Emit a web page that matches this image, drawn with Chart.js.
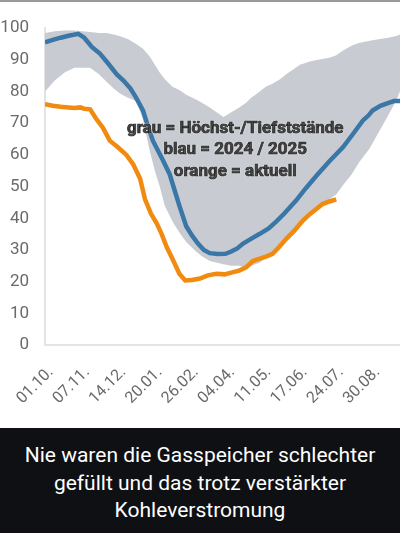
<!DOCTYPE html>
<html>
<head>
<meta charset="utf-8">
<script src="https://cdn.jsdelivr.net/npm/chart.js@4.4.1/dist/chart.umd.min.js"></script>
<style>
  html, body { margin: 0; padding: 0; background: #fff; }
  body { width: 400px; height: 533px; overflow: hidden; }
  #topbar { height: 2px; background: #9a9a9a; }
  #wrap { position: relative; width: 400px; height: 426px; }
  #caption {
    height: 105px; background: #0e1013; color: #fff;
    font-family: Roboto, "Noto Sans", sans-serif; font-size: 21px;
    line-height: 27.5px; text-align: center; padding-top: 14px; box-sizing: border-box;
  }
</style>
</head>
<body>
<div id="topbar"></div>
<div id="wrap"><canvas id="gasChart"></canvas></div>
<div id="caption">Nie waren die Gasspeicher schlechter<br>gefüllt und das trotz verstärkter<br>Kohleverstromung</div>
<script>
// x = Tage seit 01.10.
const tickDays = [0, 37, 74, 111, 148, 185, 222, 259, 296, 333];
const tickLabels = ['01.10.', '07.11.', '14.12.', '20.01.', '26.02.', '04.04.', '11.05.', '17.06.', '24.07.', '30.08.'];

// grau: Höchst-/Tiefststände
const grayDays = [0, 10, 20, 30, 46, 55, 63, 70, 76, 85, 93, 100, 107, 112, 117, 122, 130, 137, 144, 154, 160, 168, 182, 190, 198, 205, 210, 219, 225, 232, 240, 246, 260, 270, 277, 290, 297, 304, 313, 320, 331, 340, 350, 358, 362];
const grayHigh = [98.5, 99, 99.3, 99.3, 98.8, 98.5, 98.5, 98, 97.5, 96.5, 95, 93.5, 91, 88.5, 86, 84, 81.5, 80.5, 79, 77.5, 76.5, 75, 72, 73.5, 75, 76.5, 78, 80, 81.5, 82.5, 84, 85.5, 88.5, 89.5, 90, 90.7, 91.5, 93, 94.5, 95.3, 96, 96.5, 97, 97.5, 98];
const grayLow = [80, 83.5, 86, 87.5, 87.5, 85.5, 83, 81, 79.5, 78, 77, 71, 61, 55, 50, 44, 39, 35.5, 32.5, 29.5, 28, 26.5, 25.5, 25, 25, 24.5, 25, 26, 27.5, 29.5, 32, 34, 39, 41.5, 43.5, 46, 47.5, 50.5, 54, 57.5, 62, 67, 72.5, 77, 80];

// blau: 2024 / 2025
const blueDays = [0, 8, 16, 24, 34, 40, 48, 56, 64, 73, 80, 87, 93, 100, 105, 110, 120, 127, 132, 137, 144, 150, 156, 162, 168, 176, 184, 190, 196, 202, 210, 219, 228, 236, 244, 256, 266, 277, 290, 304, 315, 324, 330, 334, 342, 351, 356, 362];
const blueValues = [95.5, 96.3, 97, 97.6, 98.2, 97, 94, 92, 89, 85.5, 83.5, 81, 78, 74, 69, 64.5, 58.5, 54, 49, 44, 37.5, 34.5, 32, 30, 29, 28.7, 28.8, 29.5, 30.5, 32, 33.5, 35.1, 36.8, 39, 41.5, 45.6, 49.5, 53.5, 58, 62.5, 67, 70.8, 72.5, 74, 75.5, 76.5, 77, 77];

// orange: aktuell
const orangeDays = [0, 8, 16, 24, 30, 36, 40, 46, 52, 59, 66, 74, 83, 90, 97, 102, 108, 114, 119, 124, 131, 137, 143, 150, 158, 166, 175, 183, 192, 198, 205, 212, 219, 226, 232, 239, 246, 254, 263, 270, 277, 283, 290, 297];
const orangeValues = [76, 75.5, 75.2, 75, 74.8, 75, 74.6, 74.4, 71.5, 68.6, 64.5, 62.5, 60, 57, 52.5, 46, 41.5, 38.3, 35, 31, 26.5, 22.5, 20.4, 20.5, 21, 22, 22.5, 22.3, 23, 23.5, 24.5, 26.5, 27.3, 28, 28.8, 31, 33.5, 36, 39.3, 41.3, 43, 44.5, 45.3, 46];

const legendLines = ['grau = Höchst-/Tiefststände', 'blau = 2024 / 2025', 'orange = aktuell'];

function pts(days, vals) {
    return days.map((d, i) => ({ x: d, y: vals[i] }));
}

// Beschriftung im Diagramm
const notePlugin = {
    id: 'note',
    afterDatasetsDraw(chart) {
        const ctx = chart.ctx;
        const x = chart.scales.x.getPixelForValue(194);
        const y0 = chart.scales.y.getPixelForValue(68.4);
        const y1 = chart.scales.y.getPixelForValue(61.5);
        const step = y1 - y0;
        ctx.save();
        ctx.font = 'bold 17px Roboto, sans-serif';
        ctx.textAlign = 'center';
        ctx.textBaseline = 'middle';
        ctx.fillStyle = '#1e1e1e';
        ctx.strokeStyle = '#1e1e1e';
        ctx.lineWidth = 0.7;
        ctx.shadowColor = 'rgba(255,255,255,0.6)';
        ctx.shadowBlur = 2;
        legendLines.forEach((t, i) => {
            ctx.fillText(t, x, y0 + i * step);
            ctx.strokeText(t, x, y0 + i * step);
        });
        ctx.restore();
    }
};

const ctx = document.getElementById('gasChart').getContext('2d');
const gasChart = new Chart(ctx, {
    type: 'line',
    data: {
        datasets: [
            {
                label: 'max',
                data: pts(grayDays, grayHigh),
                borderWidth: 0,
                pointRadius: 0,
                backgroundColor: 'rgb(200,204,210)',
                fill: '+1',
                order: 3
            },
            {
                label: 'min',
                data: pts(grayDays, grayLow),
                borderWidth: 0,
                pointRadius: 0,
                fill: false,
                order: 3
            },
            {
                label: '2024 / 2025',
                data: pts(blueDays, blueValues),
                borderColor: '#3a77a7',
                borderWidth: 4.5,
                pointRadius: 0,
                fill: false,
                order: 2
            },
            {
                label: 'aktuell',
                data: pts(orangeDays, orangeValues),
                borderColor: '#f08b10',
                borderWidth: 4.5,
                pointRadius: 0,
                fill: false,
                order: 1
            }
        ]
    },
    options: {
        responsive: true,
        maintainAspectRatio: false,
        animation: false,
        layout: { padding: { top: 25, right: 0, bottom: 0, left: 0 } },
        plugins: {
            legend: { display: false },
            tooltip: { enabled: false }
        },
        scales: {
            x: {
                type: 'linear',
                min: 0,
                max: 362,
                grid: { display: false, drawTicks: false },
                border: { color: '#e4e4e4', width: 2 },
                afterBuildTicks(scale) {
                    scale.ticks = tickDays.map(d => ({ value: d }));
                },
                afterFit(scale) {
                    scale.height = 83;
                    scale.paddingLeft = 0;
                    scale.paddingRight = 0;
                },
                ticks: {
                    minRotation: 45,
                    maxRotation: 45,
                    autoSkip: false,
                    padding: 18,
                    labelOffset: 6,
                    color: '#6a6a6a',
                    font: { size: 16, family: 'Roboto' },
                    callback: (v) => tickLabels[tickDays.indexOf(v)]
                }
            },
            y: {
                min: 0,
                max: 100,
                grid: { display: false, drawTicks: false },
                border: { color: '#e4e4e4', width: 2 },
                afterFit(scale) {
                    scale.width = 45;
                },
                ticks: {
                    stepSize: 10,
                    padding: 16,
                    color: '#6a6a6a',
                    font: { size: 17, family: 'Roboto' }
                }
            }
        }
    },
    plugins: [notePlugin]
});
</script>
</body>
</html>
